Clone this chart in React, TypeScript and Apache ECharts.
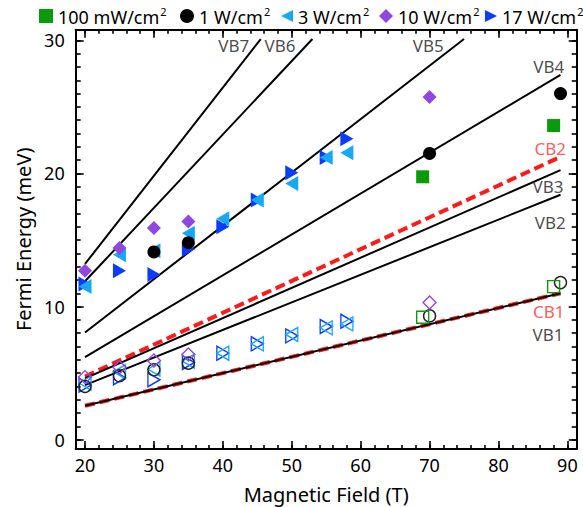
import React, { useEffect, useRef } from "react";
import * as echarts from "echarts";

const FONT = "'Noto Sans', 'Open Sans', sans-serif";

// ---- data (Magnetic field in T, Fermi energy in meV) ----
const greenB = [69, 88];
const greenE = [19.75, 23.6];
const greenOpenE = [9.2, 11.5];

const blackB = [30, 35, 70, 89];
const blackE = [14.1, 14.8, 21.5, 26.0];
const blackOpenB = [20, 25, 30, 35, 70, 89];
const blackOpenE = [4.0, 4.8, 5.25, 5.75, 9.3, 11.8];

const cyanB = [20, 25, 30, 35, 40, 45, 50, 55, 58];
const cyanE = [11.5, 13.9, 14.2, 15.5, 16.6, 18.0, 19.25, 21.2, 21.55];
const cyanOpenE = [4.25, 5.1, 5.3, 5.9, 6.5, 7.2, 7.9, 8.4, 8.7];

const purpleB = [20, 25, 30, 35, 70];
const purpleE = [12.7, 14.4, 15.9, 16.4, 25.75];
const purpleOpenE = [4.7, 5.45, 5.95, 6.4, 10.3];

const blueB = [20, 25, 30, 35, 40, 45, 50, 55, 58];
const blueE = [11.7, 12.7, 12.4, 14.3, 16.0, 18.0, 20.05, 21.2, 22.6];
const blueOpenE = [4.1, 4.65, 4.5, 5.8, 6.5, 7.2, 7.8, 8.5, 8.9];

// theoretical bands: straight lines from start to end
const bandNames = ["VB7", "VB6", "VB5", "VB4", "CB2", "VB3", "VB2", "CB1", "VB1"];
const bandStartB = [20, 20, 20, 20, 20, 20, 20, 20, 20];
const bandStartE = [13.2, 11.9, 8.05, 6.2, 4.75, 4.6, 4.1, 2.55, 2.55];
const bandEndB = [45.5, 53, 75, 89, 89, 89, 89, 89, 89];
const bandEndE = [30.1, 30.1, 30.1, 27.4, 21.25, 20.25, 18.4, 11.0, 11.0];
// band label anchors (data coordinates)
const bandLabelB = [41.6, 48.3, 69.8, 87.3, 87.5, 87.2, 87.5, 87.3, 87.2];
const bandLabelE = [29.6, 29.6, 29.6, 28.0, 21.9, 19.0, 16.35, 9.6, 7.9];

// axes
const X_MIN = 18.65;
const X_MAX = 91.35;
const Y_MIN = -0.7;
const Y_MAX = 30.8;
const xMajor = [20, 30, 40, 50, 60, 70, 80, 90];
const xMinor = [20, 22, 24, 26, 28, 30, 32, 34, 36, 38, 40, 42, 44, 46, 48, 50, 52, 54, 56, 58, 60, 62, 64, 66, 68, 70, 72, 74, 76, 78, 80, 82, 84, 86, 88, 90];
const yMajor = [0, 10, 20, 30];
const yMinor = [0, 1, 2, 3, 4, 5, 6, 7, 8, 9, 10, 11, 12, 13, 14, 15, 16, 17, 18, 19, 20, 21, 22, 23, 24, 25, 26, 27, 28, 29, 30];

const L_GREEN = "100 mW/cm²";
const L_BLACK = "1 W/cm²";
const L_CYAN = "3 W/cm²";
const L_PURPLE = "10 W/cm²";
const L_BLUE = "17 W/cm²";

const C_GREEN = "#0a9a0a";
const C_BLACK = "#000000";
const C_CYAN = "#14a8f5";
const C_PURPLE = "#9146e2";
const C_BLUE = "#0a3cff";
const C_RED = "#ff1a1a";

const TRI_LEFT = "path://M0,5L10,0L10,10Z";
const TRI_RIGHT = "path://M10,5L0,0L0,10Z";

const zip = (xs: number[], ys: number[]) => xs.map((x, i) => [x, ys[i]]);

function xAxis(position: string, ticks: number[], len: number, line: boolean, extra: any = {}) {
  return {
    type: "value",
    position,
    min: X_MIN,
    max: X_MAX,
    axisLine: { show: line, onZero: false, lineStyle: { color: "#000", width: 2 } },
    axisTick: { show: true, inside: true, length: len, customValues: ticks, lineStyle: { color: "#000", width: 1.6 } },
    axisLabel: { show: false },
    splitLine: { show: false },
    ...extra,
  };
}
function yAxis(position: string, ticks: number[], len: number, line: boolean, extra: any = {}) {
  return {
    type: "value",
    position,
    min: Y_MIN,
    max: Y_MAX,
    axisLine: { show: line, onZero: false, lineStyle: { color: "#000", width: 2 } },
    axisTick: { show: true, inside: true, length: len, customValues: ticks, lineStyle: { color: "#000", width: 1.6 } },
    axisLabel: { show: false },
    splitLine: { show: false },
    ...extra,
  };
}

export default function App() {
  const ref = useRef<HTMLDivElement>(null);
  useEffect(() => {
    if (!ref.current) return;
    const chart = echarts.init(ref.current, null, { renderer: "svg" });

    const bandSeries: any[] = bandNames.map((n, i) => {
      const isCB = n.startsWith("CB");
      return {
        type: "line",
        name: n,
        data: [
          [bandStartB[i], bandStartE[i]],
          [bandEndB[i], bandEndE[i]],
        ],
        showSymbol: false,
        symbol: "none",
        silent: true,
        z: isCB ? 2 : 3,
        lineStyle: isCB ? { color: C_RED, width: 4, type: [10, 5] } : { color: "#000", width: 2 },
      };
    });

    const labelSeries = {
      type: "scatter",
      name: "bandLabels",
      silent: true,
      symbolSize: 0,
      z: 6,
      data: bandNames.map((n, i) => ({
        name: n,
        value: [bandLabelB[i], bandLabelE[i]],
        label: { color: n.startsWith("CB") ? "#ff3030" : "#1a1a1a" },
      })),
      label: {
        show: true,
        position: "inside",
        formatter: (p: any) => p.name,
        fontSize: 17,
        fontFamily: FONT,
      },
    };

    const filled = (name: string, data: number[][], symbol: string, color: string, size: any, rotate = 0) => ({
      type: "scatter",
      name,
      data,
      symbol,
      symbolSize: size,
      symbolRotate: rotate,
      itemStyle: { color, opacity: 1 },
      z: 5,
    });
    const open = (name: string, data: number[][], symbol: string, color: string, size: any, rotate = 0) => ({
      type: "scatter",
      name,
      data,
      symbol,
      symbolSize: size,
      symbolRotate: rotate,
      itemStyle: { color: "rgba(0,0,0,0)", borderColor: color, borderWidth: 1.4, opacity: 1 },
      z: 5,
    });

    const legendDefs = [
      { name: L_GREEN, left: 39, icon: "rect" },
      { name: L_BLACK, left: 180, icon: "circle" },
      { name: L_CYAN, left: 281, icon: TRI_LEFT },
      { name: L_PURPLE, left: 379, icon: "diamond" },
      { name: L_BLUE, left: 485, icon: TRI_RIGHT },
    ];

    const option: any = {
      animation: false,
      backgroundColor: "#ffffff",
      textStyle: { fontFamily: FONT },
      grid: { left: 75.7, right: 6.3, top: 29.7, bottom: 58, containLabel: false, outerBoundsMode: "none" },
      legend: legendDefs.map((l) => ({
        data: [{ name: l.name, icon: l.icon }],
        left: l.left,
        top: 6,
        padding: 0,
        itemGap: 0,
        itemWidth: l.icon.startsWith("path") ? 12 : 14,
        itemHeight: 14,
        selectedMode: false,
        formatter: (name: string) => `{a|${name.replace("²", "")}}{s|2}`,
        textStyle: {
          fontSize: 18,
          fontFamily: FONT,
          color: "#000",
          rich: {
            a: { fontSize: 18, fontFamily: FONT, color: "#000", lineHeight: 20, verticalAlign: "bottom" },
            s: { fontSize: 11, fontFamily: FONT, color: "#000", lineHeight: 20, verticalAlign: "top", padding: [0, 0, 0, 1] },
          },
        },
      })),
      xAxis: [
        xAxis("bottom", xMinor, 4, true, {
          name: "Magnetic Field (T)",
          nameLocation: "middle",
          nameGap: 35,
          nameTextStyle: { fontSize: 20, fontFamily: FONT, color: "#000" },
          axisLabel: { show: true, customValues: xMajor, margin: 7, fontSize: 18, fontFamily: FONT, color: "#000" },
        }),
        xAxis("bottom", xMajor, 8, false),
        xAxis("top", xMinor, 4, true),
        xAxis("top", xMajor, 8, false),
      ],
      yAxis: [
        yAxis("left", yMinor, 5, true, {
          name: "Fermi Energy (meV)",
          nameLocation: "middle",
          nameGap: 42,
          nameTextStyle: { fontSize: 20, fontFamily: FONT, color: "#000" },
          axisLabel: { show: true, customValues: yMajor, margin: 11, fontSize: 18, fontFamily: FONT, color: "#000" },
        }),
        yAxis("left", yMajor, 8, false),
        yAxis("right", yMinor, 5, true),
        yAxis("right", yMajor, 8, false),
      ],
      series: [
        ...bandSeries,
        // open markers (lower branch)
        open(L_BLUE + " low", zip(blueB, blueOpenE), "triangle", C_BLUE, [14, 12], -90),
        open(L_CYAN + " low", zip(cyanB, cyanOpenE), "triangle", C_CYAN, [14, 12], 90),
        open(L_BLACK + " low", zip(blackOpenB, blackOpenE), "circle", "#222", 12),
        open(L_PURPLE + " low", zip(purpleB, purpleOpenE), "diamond", C_PURPLE, 13),
        open(L_GREEN + " low", zip(greenB, greenOpenE), "rect", C_GREEN, 12),
        // filled markers (upper branch)
        filled(L_BLUE, zip(blueB, blueE), "triangle", C_BLUE, [15, 13], -90),
        filled(L_CYAN, zip(cyanB, cyanE), "triangle", C_CYAN, [15, 13], 90),
        filled(L_BLACK, zip(blackB, blackE), "circle", C_BLACK, 13),
        filled(L_PURPLE, zip(purpleB, purpleE), "diamond", C_PURPLE, 14),
        filled(L_GREEN, zip(greenB, greenE), "rect", C_GREEN, 13),
        labelSeries,
      ],
    };
    chart.setOption(option);
    return () => chart.dispose();
  }, []);
  return <div ref={ref} style={{ position: "fixed", left: 0, top: 0, width: 583, height: 507 }} />;
}
